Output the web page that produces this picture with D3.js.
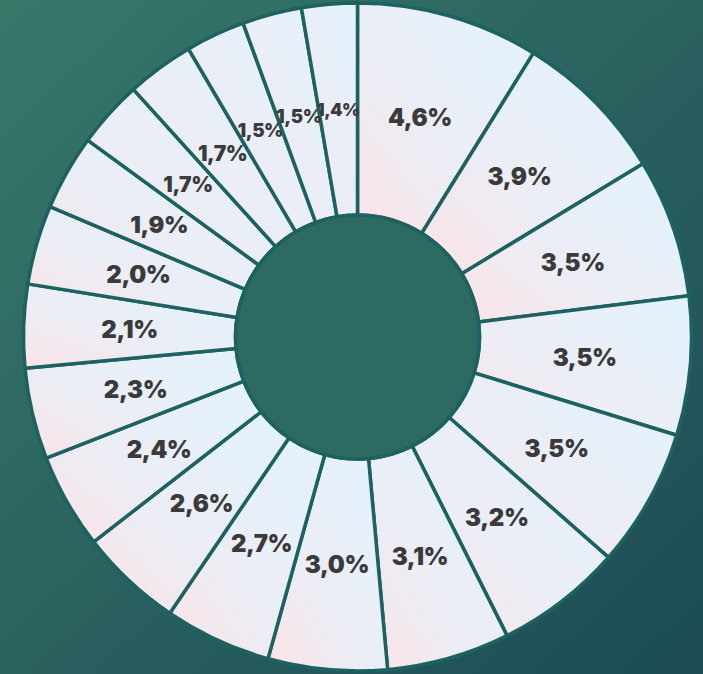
<!doctype html>
<html>
<head>
<meta charset="utf-8">
<script src="https://d3js.org/d3.v7.min.js"></script>
<style>
  html, body { margin: 0; padding: 0; }
  body { width: 703px; height: 674px; overflow: hidden; }
</style>
</head>
<body>
<svg id="chart" width="703" height="674"></svg>
<script>
// values, clockwise from 12 o'clock
var values = [4.6, 3.9, 3.5, 3.5, 3.5, 3.2, 3.1, 3.0, 2.7, 2.6, 2.4, 2.3, 2.1, 2.0, 1.9, 1.7, 1.7, 1.5, 1.5, 1.4];
var labels = values.map(function(v) { return v.toFixed(1).replace(".", ",") + "%"; });

var svg = d3.select("#chart"),
    width = +svg.attr("width"),
    height = +svg.attr("height"),
    cx = 357.5,
    cy = 337,
    outerR = 334,
    innerR = 122;

var defs = svg.append("defs");

var bg = defs.append("linearGradient")
    .attr("id", "bg")
    .attr("x1", "0").attr("y1", "0").attr("x2", "1").attr("y2", "1");
bg.append("stop").attr("offset", "0").attr("stop-color", "#377869");
bg.append("stop").attr("offset", "1").attr("stop-color", "#1c4b55");

var sliceGrad = defs.append("linearGradient")
    .attr("id", "slice")
    .attr("x1", "0").attr("y1", "1").attr("x2", "1").attr("y2", "0");
sliceGrad.append("stop").attr("offset", "0").attr("stop-color", "#fbe3e7");
sliceGrad.append("stop").attr("offset", "0.4").attr("stop-color", "#ecedf5");
sliceGrad.append("stop").attr("offset", "1").attr("stop-color", "#e2f3fc");

svg.append("rect")
    .attr("width", width)
    .attr("height", height)
    .attr("fill", "url(#bg)");

var g = svg.append("g")
    .attr("transform", "translate(" + cx + "," + cy + ")");

var pie = d3.pie().sort(null).value(function(d) { return d; });
var arcs = pie(values);

var arc = d3.arc().innerRadius(innerR).outerRadius(outerR);

g.selectAll(".slice")
    .data(arcs)
    .enter().append("path")
    .attr("class", "slice")
    .attr("d", arc)
    .attr("fill", "url(#slice)")
    .attr("stroke", "#1c6261")
    .attr("stroke-width", 3.5)
    .attr("stroke-linejoin", "round");

g.append("circle")
    .attr("r", innerR)
    .attr("fill", "#2c6a62")
    .attr("stroke", "#1c6261")
    .attr("stroke-width", 3.5);

var rMid = (innerR + outerR) / 2;
var labelArc = d3.arc().innerRadius(rMid).outerRadius(rMid);

g.selectAll(".label")
    .data(arcs)
    .enter().append("text")
    .attr("class", "label")
    .attr("transform", function(d) { return "translate(" + labelArc.centroid(d) + ")"; })
    .attr("text-anchor", "middle")
    .attr("dy", "0.36em")
    .attr("font-family", "Inter, 'Open Sans', sans-serif")
    .attr("font-weight", 900)
    .attr("letter-spacing", "-0.4px")
    .attr("fill", "#3a3a3a")
    .attr("font-size", function(d) {
        var len = (d.endAngle - d.startAngle) * rMid;
        return Math.min(24, len * 0.45) + "px";
    })
    .text(function(d, i) { return labels[i]; });
</script>
</body>
</html>
